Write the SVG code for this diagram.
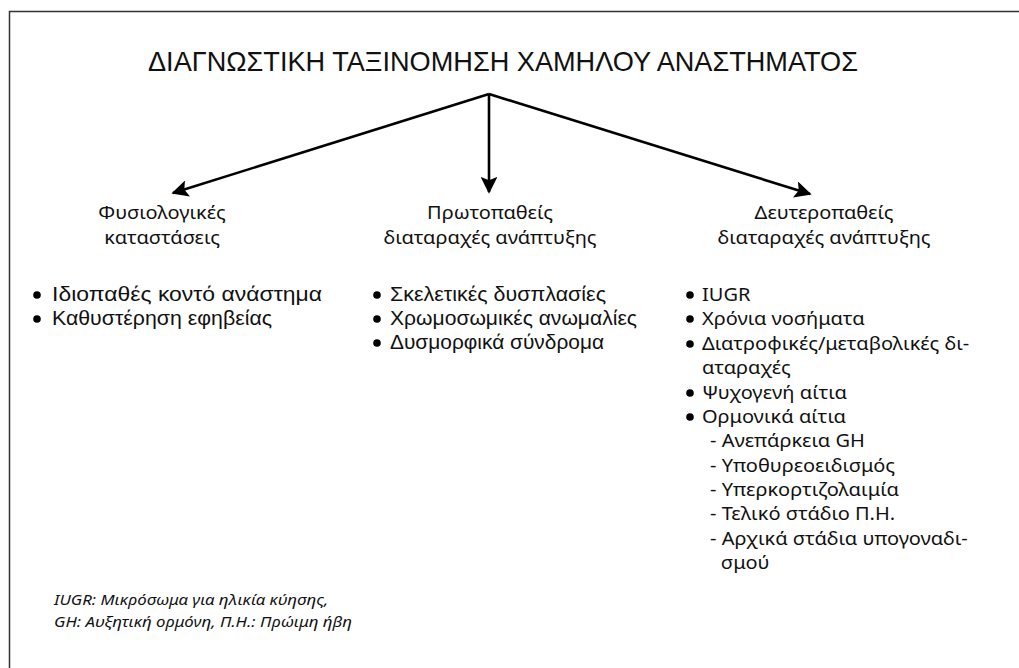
<svg xmlns="http://www.w3.org/2000/svg" width="1019" height="668" viewBox="0 0 1019 668">
<style>
.frame{fill:none;stroke:#333;stroke-width:1.5}
.title{font-family:"Liberation Sans",Arial,sans-serif;font-size:28px;fill:#111}
.head{font-family:"Noto Sans","Open Sans",sans-serif;font-size:17.5px;fill:#111;text-anchor:middle}
.nar{font-family:"Liberation Sans",Arial,sans-serif;font-size:20.5px;fill:#111}
.hum{font-family:"Noto Sans","Open Sans",sans-serif;font-size:17.5px;fill:#111}
.foot{font-family:"Noto Sans","Open Sans",sans-serif;font-size:15px;font-style:italic;fill:#111}
.arr{stroke:#000;stroke-width:2.6;fill:none;marker-end:url(#ah)}
.dot{fill:#000}
</style>
<defs>
<marker id="ah" viewBox="0 0 10 10" refX="9" refY="5" markerWidth="7" markerHeight="6.5" orient="auto" markerUnits="strokeWidth">
<path d="M0,0 L10,5 L0,10 L2,5 Z" fill="#000"/>
</marker>
</defs>
<rect class="frame" x="9.5" y="11.5" width="1030" height="680"/>
<g id="title">
<text class="title" x="148" y="71" textLength="710" lengthAdjust="spacingAndGlyphs">ΔΙΑΓΝΩΣΤΙΚΗ ΤΑΞΙΝΟΜΗΣΗ ΧΑΜΗΛΟΥ ΑΝΑΣΤΗΜΑΤΟΣ</text>
</g>
<g id="connectors">
<line class="arr" x1="489" y1="94" x2="173" y2="193"/>
<line class="arr" x1="489" y1="94" x2="489" y2="192"/>
<line class="arr" x1="489" y1="94" x2="810" y2="194"/>
</g>
<g id="physio">
<g transform="translate(162 0) scale(1.143 1)">
<text class="head" x="0" y="219">Φυσιολογικές</text>
<text class="head" x="0" y="244">καταστάσεις</text>
</g>
<circle class="dot" cx="37" cy="295" r="3.8"/>
<text class="nar" x="52" y="301" textLength="270" lengthAdjust="spacingAndGlyphs">Ιδιοπαθές κοντό ανάστημα</text>
<circle class="dot" cx="37" cy="319" r="3.8"/>
<text class="nar" x="52" y="325" textLength="220" lengthAdjust="spacingAndGlyphs">Καθυστέρηση εφηβείας</text>
</g>
<g id="primary">
<g transform="translate(490 0) scale(1.143 1)">
<text class="head" x="0" y="219">Πρωτοπαθείς</text>
<text class="head" x="0" y="244">διαταραχές ανάπτυξης</text>
</g>
<circle class="dot" cx="377" cy="295" r="3.8"/>
<text class="nar" x="390" y="301" textLength="216" lengthAdjust="spacingAndGlyphs">Σκελετικές δυσπλασίες</text>
<circle class="dot" cx="377" cy="319" r="3.8"/>
<text class="nar" x="390" y="325" textLength="247" lengthAdjust="spacingAndGlyphs">Χρωμοσωμικές ανωμαλίες</text>
<circle class="dot" cx="377" cy="343" r="3.8"/>
<text class="nar" x="390" y="349" textLength="214" lengthAdjust="spacingAndGlyphs">Δυσμορφικά σύνδρομα</text>
</g>
<g id="secondary">
<g transform="translate(824 0) scale(1.143 1)">
<text class="head" x="0" y="219">Δευτεροπαθείς</text>
<text class="head" x="0" y="244">διαταραχές ανάπτυξης</text>
</g>
<circle class="dot" cx="690" cy="295" r="3.8"/>
<circle class="dot" cx="690" cy="319" r="3.8"/>
<circle class="dot" cx="690" cy="344" r="3.8"/>
<circle class="dot" cx="690" cy="393" r="3.8"/>
<circle class="dot" cx="690" cy="417" r="3.8"/>
<g transform="translate(702 0) scale(1.143 1)">
<text class="hum" x="0" y="301">IUGR</text>
<text class="hum" x="0" y="325">Χρόνια νοσήματα</text>
<text class="hum" x="0" y="350">Διατροφικές/μεταβολικές δι-</text>
<text class="hum" x="0" y="374">αταραχές</text>
<text class="hum" x="0" y="399">Ψυχογενή αίτια</text>
<text class="hum" x="0" y="423">Ορμονικά αίτια</text>
<text class="hum" x="7" y="447">- Ανεπάρκεια GH</text>
<text class="hum" x="7" y="472">- Υποθυρεοειδισμός</text>
<text class="hum" x="7" y="496">- Υπερκορτιζολαιμία</text>
<text class="hum" x="7" y="520">- Τελικό στάδιο Π.Η.</text>
<text class="hum" x="7" y="545">- Αρχικά στάδια υπογοναδι-</text>
<text class="hum" x="16.5" y="569">σμού</text>
</g>
</g>
<g id="footnote">
<g transform="translate(54 0) scale(1.12 1)">
<text class="foot" x="0" y="605">IUGR: Μικρόσωμα για ηλικία κύησης,</text>
<text class="foot" x="0" y="627">GH: Αυξητική ορμόνη, Π.Η.: Πρώιμη ήβη</text>
</g>
</g>
</svg>
